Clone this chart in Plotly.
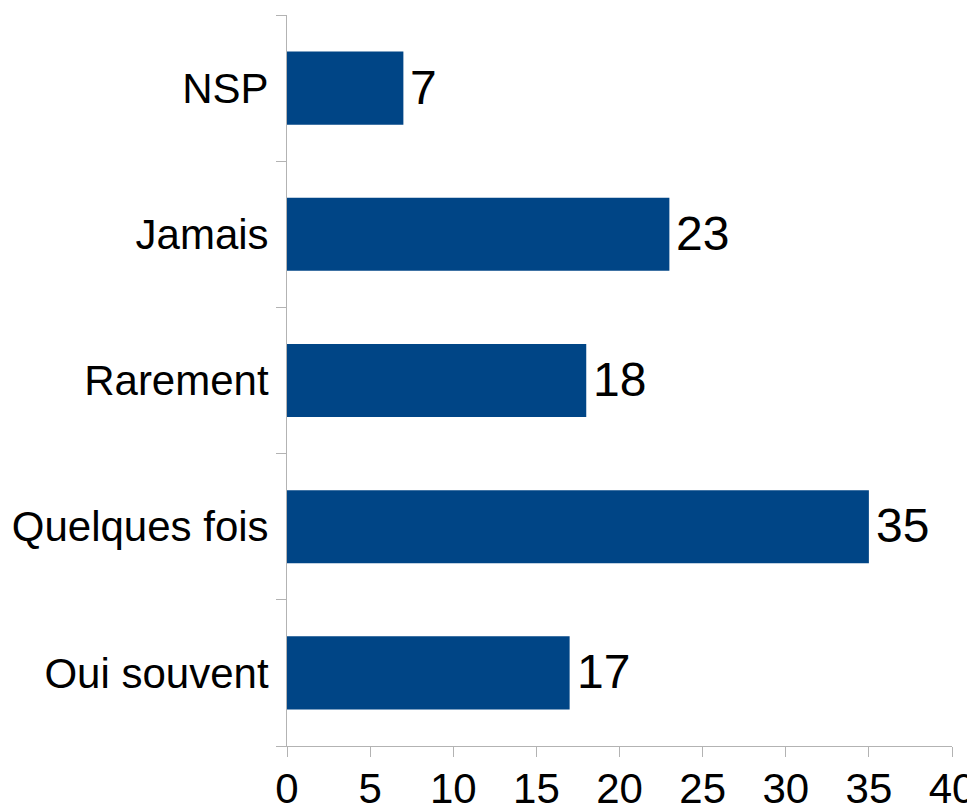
import plotly.graph_objects as go

categories = ["Oui souvent", "Quelques fois", "Rarement", "Jamais", "NSP"]
values = [17, 35, 18, 23, 7]
x_ticks = [0, 5, 10, 15, 20, 25, 30, 35, 40]

FONT = "Liberation Sans, Arial, sans-serif"

fig = go.Figure(
    go.Bar(
        x=values,
        y=categories,
        orientation="h",
        marker=dict(color="#004586", line=dict(width=0)),
        width=0.5,
        cliponaxis=False,
        hoverinfo="x+y",
    )
)

for c, v in zip(categories, values):
    fig.add_annotation(
        x=v, y=c, text=str(v), showarrow=False,
        xanchor="left", yanchor="middle", xshift=5, yshift=1,
        font=dict(family=FONT, size=48, color="#000000"),
    )

fig.update_layout(
    width=975,
    height=803,
    margin=dict(l=279, r=31, t=7, b=65, autoexpand=False),
    paper_bgcolor="white",
    plot_bgcolor="white",
    showlegend=False,
    font=dict(family=FONT, size=42, color="#000000"),
)

fig.update_xaxes(
    range=[0, 40],
    tickvals=x_ticks,
    automargin=False,
    showgrid=False,
    zeroline=False,
    showline=True,
    linecolor="#b3b3b3",
    linewidth=1,
    ticks="outside",
    ticklen=10,
    tickcolor="#b3b3b3",
    ticklabeloverflow="allow",
    ticklabelstandoff=-4,
    tickfont=dict(family=FONT, size=42, color="#000000"),
)

fig.update_yaxes(
    categoryorder="array",
    categoryarray=categories,
    range=[-0.5, 4.5],
    automargin=False,
    showgrid=False,
    zeroline=False,
    showline=True,
    linecolor="#b3b3b3",
    linewidth=1,
    ticks="outside",
    tickson="boundaries",
    ticklen=10,
    tickcolor="#b3b3b3",
    ticklabelstandoff=9,
    tickfont=dict(family=FONT, size=42, color="#000000"),
)

fig.write_html("out.html")
